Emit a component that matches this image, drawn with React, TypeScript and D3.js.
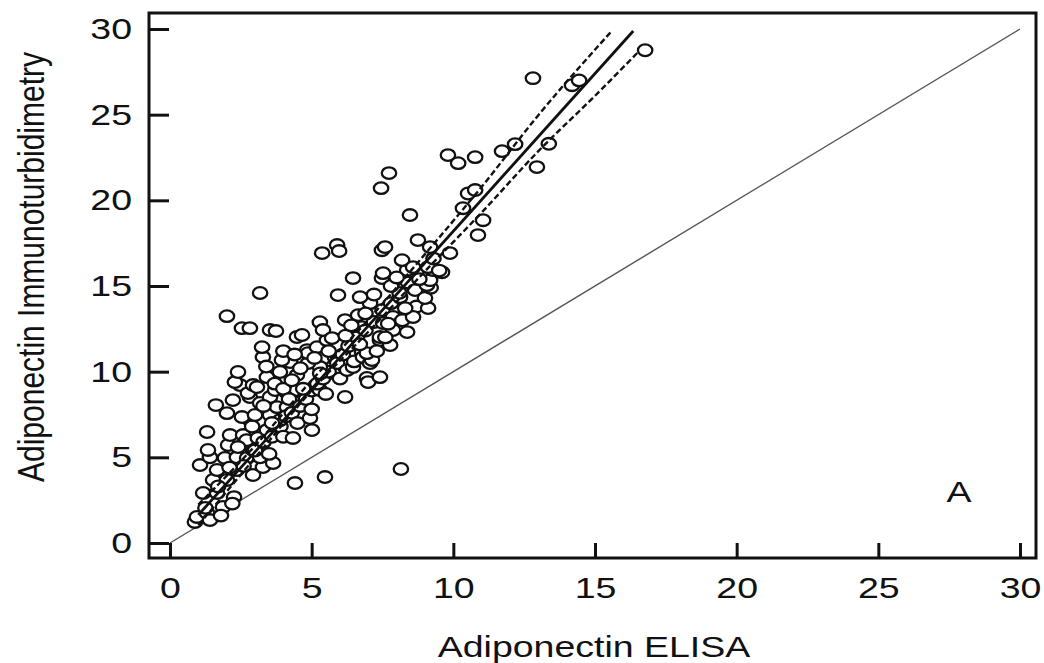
import * as d3 from 'd3'
import { useEffect, useRef } from 'react'

// [ELISA, Immunoturbidimetry] pairs
const lowSamples: [number, number][] = [
    [0.88, 1.23], [0.95, 1.52], [1.31, 1.75], [1.41, 1.34], [1.25, 2.05], [1.87, 2.1], [1.17, 2.92],
    [1.66, 2.92], [2.26, 2.68], [1.52, 3.68], [2.01, 3.68], [1.66, 4.26], [1.06, 4.55], [1.41, 5.0],
    [1.94, 4.96], [2.36, 5.0], [1.34, 5.43], [2.05, 5.72], [2.36, 4.26], [2.72, 4.96], [2.93, 3.97],
    [2.6, 4.5], [1.31, 6.48], [1.62, 8.05], [2.12, 6.3], [2.58, 6.3], [2.01, 7.58], [2.82, 7.17],
    [2.54, 7.35], [2.93, 5.43], [2.82, 8.52], [2.47, 9.22], [2.22, 8.34], [2.75, 8.75], [2.29, 9.39],
    [2.93, 9.22], [2.4, 9.98], [2.01, 13.24], [2.54, 12.54], [2.82, 12.54], [1.8, 1.6], [2.2, 2.3],
    [2.7, 6.0], [2.4, 5.6], [2.9, 6.8], [1.7, 3.3], [2.1, 4.4],
]

const midSamples: [number, number][] = [
    [3.0, 7.47], [3.18, 8.17], [3.07, 9.1], [3.53, 8.52], [3.53, 7.47], [3.1, 6.13], [3.42, 6.59],
    [3.28, 4.43], [3.64, 4.67], [3.18, 5.0], [3.0, 5.4], [3.3, 5.9], [3.6, 6.2], [3.5, 5.2], [3.9, 6.8],
    [4.0, 6.2], [3.88, 7.17], [3.78, 7.93], [4.13, 7.93], [4.13, 8.75], [3.71, 8.93], [3.42, 9.68],
    [3.88, 9.98], [4.48, 9.8], [4.48, 8.93], [4.1, 7.4], [4.3, 7.6], [4.34, 6.13], [4.5, 7.0],
    [4.6, 8.0], [4.8, 8.4], [4.94, 7.29], [5.01, 6.59], [5.0, 7.8], [5.0, 8.9], [5.29, 8.93],
    [5.2, 9.3], [5.4, 9.6], [5.75, 9.92], [5.5, 8.7], [5.6, 10.0], [5.29, 10.27], [4.24, 10.56],
    [3.95, 10.68], [3.28, 10.85], [3.25, 11.43], [3.18, 14.59], [3.53, 12.43], [3.74, 12.37],
    [4.48, 12.02], [4.84, 11.26], [4.87, 10.5], [4.87, 11.08], [5.19, 11.43], [5.54, 11.84],
    [5.82, 10.85], [5.93, 10.85], [4.66, 12.14], [5.29, 12.89], [5.4, 12.43], [5.72, 11.96],
    [5.37, 16.92], [5.9, 17.39], [5.97, 17.04], [5.93, 14.47], [4.41, 3.5], [5.47, 3.85], [5.9, 10.5],
    [3.3, 8.0], [3.7, 9.3], [4.0, 9.0], [4.3, 9.5], [4.6, 10.2], [4.2, 8.4], [3.6, 7.0],
    [3.4, 10.3], [4.0, 11.2], [4.4, 11.0], [5.1, 10.8], [5.6, 11.2], [5.3, 9.9], [4.7, 9.0],
]

const highSamples: [number, number][] = [
    [6.0, 9.6], [6.18, 8.52], [6.25, 10.09], [6.1, 11.0], [6.46, 10.27], [6.3, 11.5], [6.5, 10.6],
    [6.78, 11.14], [6.81, 10.85], [6.6, 12.0], [6.18, 13.01], [6.64, 13.3], [6.78, 12.6], [6.9, 12.4],
    [6.95, 9.63], [6.99, 9.39], [7.06, 10.5], [7.13, 10.68], [6.95, 11.08], [7.41, 9.68],
    [7.41, 11.84], [7.77, 11.55], [7.41, 12.02], [7.2, 12.9], [7.06, 14.0], [6.71, 14.35],
    [6.46, 15.46], [7.48, 15.46], [7.52, 15.75], [7.48, 17.09], [7.59, 17.27], [7.45, 20.71],
    [7.73, 21.59], [7.52, 12.84], [7.5, 13.6], [7.87, 13.19], [7.87, 12.43], [7.6, 12.0], [7.8, 14.0],
    [8.12, 14.35], [8.1, 14.6], [8.2, 13.0], [8.37, 12.31], [8.37, 15.93], [8.19, 16.51],
    [8.58, 16.1], [8.4, 15.2], [8.65, 14.76], [8.7, 13.8], [8.75, 17.68], [8.47, 19.14], [9.11, 13.71],
    [9.0, 14.3], [9.2, 14.9], [9.07, 15.05], [9.18, 15.34], [9.28, 15.93], [9.11, 16.1], [9.6, 15.8],
    [9.18, 17.27], [9.88, 16.92], [9.81, 22.64], [8.15, 4.32], [8.58, 13.19], [9.5, 15.9],
    [6.2, 12.1], [6.4, 12.7], [6.9, 13.4], [7.2, 14.5], [7.8, 15.0], [8.0, 15.5], [8.3, 13.7],
    [8.8, 15.4], [9.3, 16.6], [6.7, 11.6], [7.3, 11.2], [7.7, 12.8],
]

const topSamples: [number, number][] = [
    [10.17, 22.17], [10.77, 22.52], [11.72, 22.87], [12.18, 23.28], [12.95, 21.94], [13.37, 23.3],
    [12.81, 27.13], [14.19, 26.72], [14.44, 27.0], [16.77, 28.76], [10.52, 20.4], [10.77, 20.6],
    [10.34, 19.54], [11.05, 18.84], [10.87, 17.97],
]

// regression fit and its confidence band
const fitLine: [number, number][] = [[1.0, 1.64], [16.35, 29.88]]
const upperBand: [number, number][] = [
    [1.0, 2.24], [3, 5.67], [5, 9.5], [7, 13.03], [9, 16.86], [11, 20.79], [13, 24.97], [15.6, 29.9],
]
const lowerBand: [number, number][] = [
    [1.0, 1.04], [3, 4.97], [5, 8.9], [7, 12.33], [9, 15.86], [11, 19.29], [13, 22.87], [15, 26.1], [16.55, 28.7],
]
const identityLine: [number, number][] = [[0, 0], [30, 30]]

const axisTicks = [0, 5, 10, 15, 20, 25, 30]

export default function App() {
    const chart = useRef<SVGSVGElement>(null)

    useEffect(() => {
        const svg = d3.select(chart.current)
        svg.selectAll('*').remove()

        const font = "'Liberation Sans', Arial, sans-serif"
        const frame = { left: 149, top: 13, right: 1036, bottom: 558 }

        const x = d3.scaleLinear().domain([0, 30]).range([170, 1020])
        const y = d3.scaleLinear().domain([0, 30]).range([543, 29])

        const line = d3.line<[number, number]>().x(d => x(d[0])).y(d => y(d[1]))
        const band = d3.line<[number, number]>().x(d => x(d[0])).y(d => y(d[1])).curve(d3.curveMonotoneX)

        // identity
        svg.append('path')
            .attr('d', line(identityLine))
            .attr('fill', 'none')
            .attr('stroke', '#555')
            .attr('stroke-width', 1.4)

        const samples = [...lowSamples, ...midSamples, ...highSamples, ...topSamples]
        svg.append('g')
            .selectAll('ellipse')
            .data(samples)
            .join('ellipse')
            .attr('cx', d => x(d[0]))
            .attr('cy', d => y(d[1]))
            .attr('rx', 7.2)
            .attr('ry', 5.8)
            .attr('fill', '#fff')
            .attr('stroke', '#111')
            .attr('stroke-width', 2.3)

        svg.append('path')
            .attr('d', line(fitLine))
            .attr('fill', 'none')
            .attr('stroke', '#111')
            .attr('stroke-width', 2.8)

        for (const b of [upperBand, lowerBand]) {
            svg.append('path')
                .attr('d', band(b))
                .attr('fill', 'none')
                .attr('stroke', '#111')
                .attr('stroke-width', 2.4)
                .attr('stroke-dasharray', '6,3')
        }

        // frame
        svg.append('rect')
            .attr('x', frame.left)
            .attr('y', frame.top)
            .attr('width', frame.right - frame.left)
            .attr('height', frame.bottom - frame.top)
            .attr('fill', 'none')
            .attr('stroke', '#111')
            .attr('stroke-width', 3)

        const yAxis = svg.append('g')
            .attr('transform', 'translate(' + frame.left + ',0)')
            .call(d3.axisLeft(y).tickValues(axisTicks).tickSize(-20).tickPadding(17))
        yAxis.select('.domain').remove()
        yAxis.selectAll('line').attr('stroke', '#111').attr('stroke-width', 3)
        yAxis.selectAll('text')
            .attr('x', null)
            .attr('transform', 'translate(-17,0) scale(1.25,1)')
            .attr('fill', '#111')
            .style('font-family', font)
            .style('font-size', '30px')

        const xAxis = svg.append('g')
            .attr('transform', 'translate(0,' + frame.bottom + ')')
            .call(d3.axisBottom(x).tickValues(axisTicks).tickSize(-15).tickPadding(19))
        xAxis.select('.domain').remove()
        xAxis.selectAll('line').attr('stroke', '#111').attr('stroke-width', 3)
        xAxis.selectAll('text')
            .attr('transform', 'scale(1.25,1)')
            .attr('fill', '#111')
            .style('font-family', font)
            .style('font-size', '30px')

        svg.append('text')
            .attr('transform', 'translate(594,657) scale(1.25,1)')
            .attr('text-anchor', 'middle')
            .style('font-family', font)
            .style('font-size', '30px')
            .attr('fill', '#111')
            .text('Adiponectin ELISA')

        svg.append('text')
            .attr('transform', 'translate(44,267) rotate(-90) scale(1,1.25)')
            .attr('text-anchor', 'middle')
            .style('font-family', font)
            .style('font-size', '30px')
            .attr('fill', '#111')
            .text('Adiponectin Immunoturbidimetry')

        svg.append('text')
            .attr('transform', 'translate(959,502) scale(1.25,1)')
            .attr('text-anchor', 'middle')
            .style('font-family', font)
            .style('font-size', '30px')
            .attr('fill', '#111')
            .text('A')
    })

    return (
        <svg ref={chart} width={1044} height={663}
            style={{ position: 'absolute', left: 0, top: 0, background: '#fff' }}></svg>
    )
}
